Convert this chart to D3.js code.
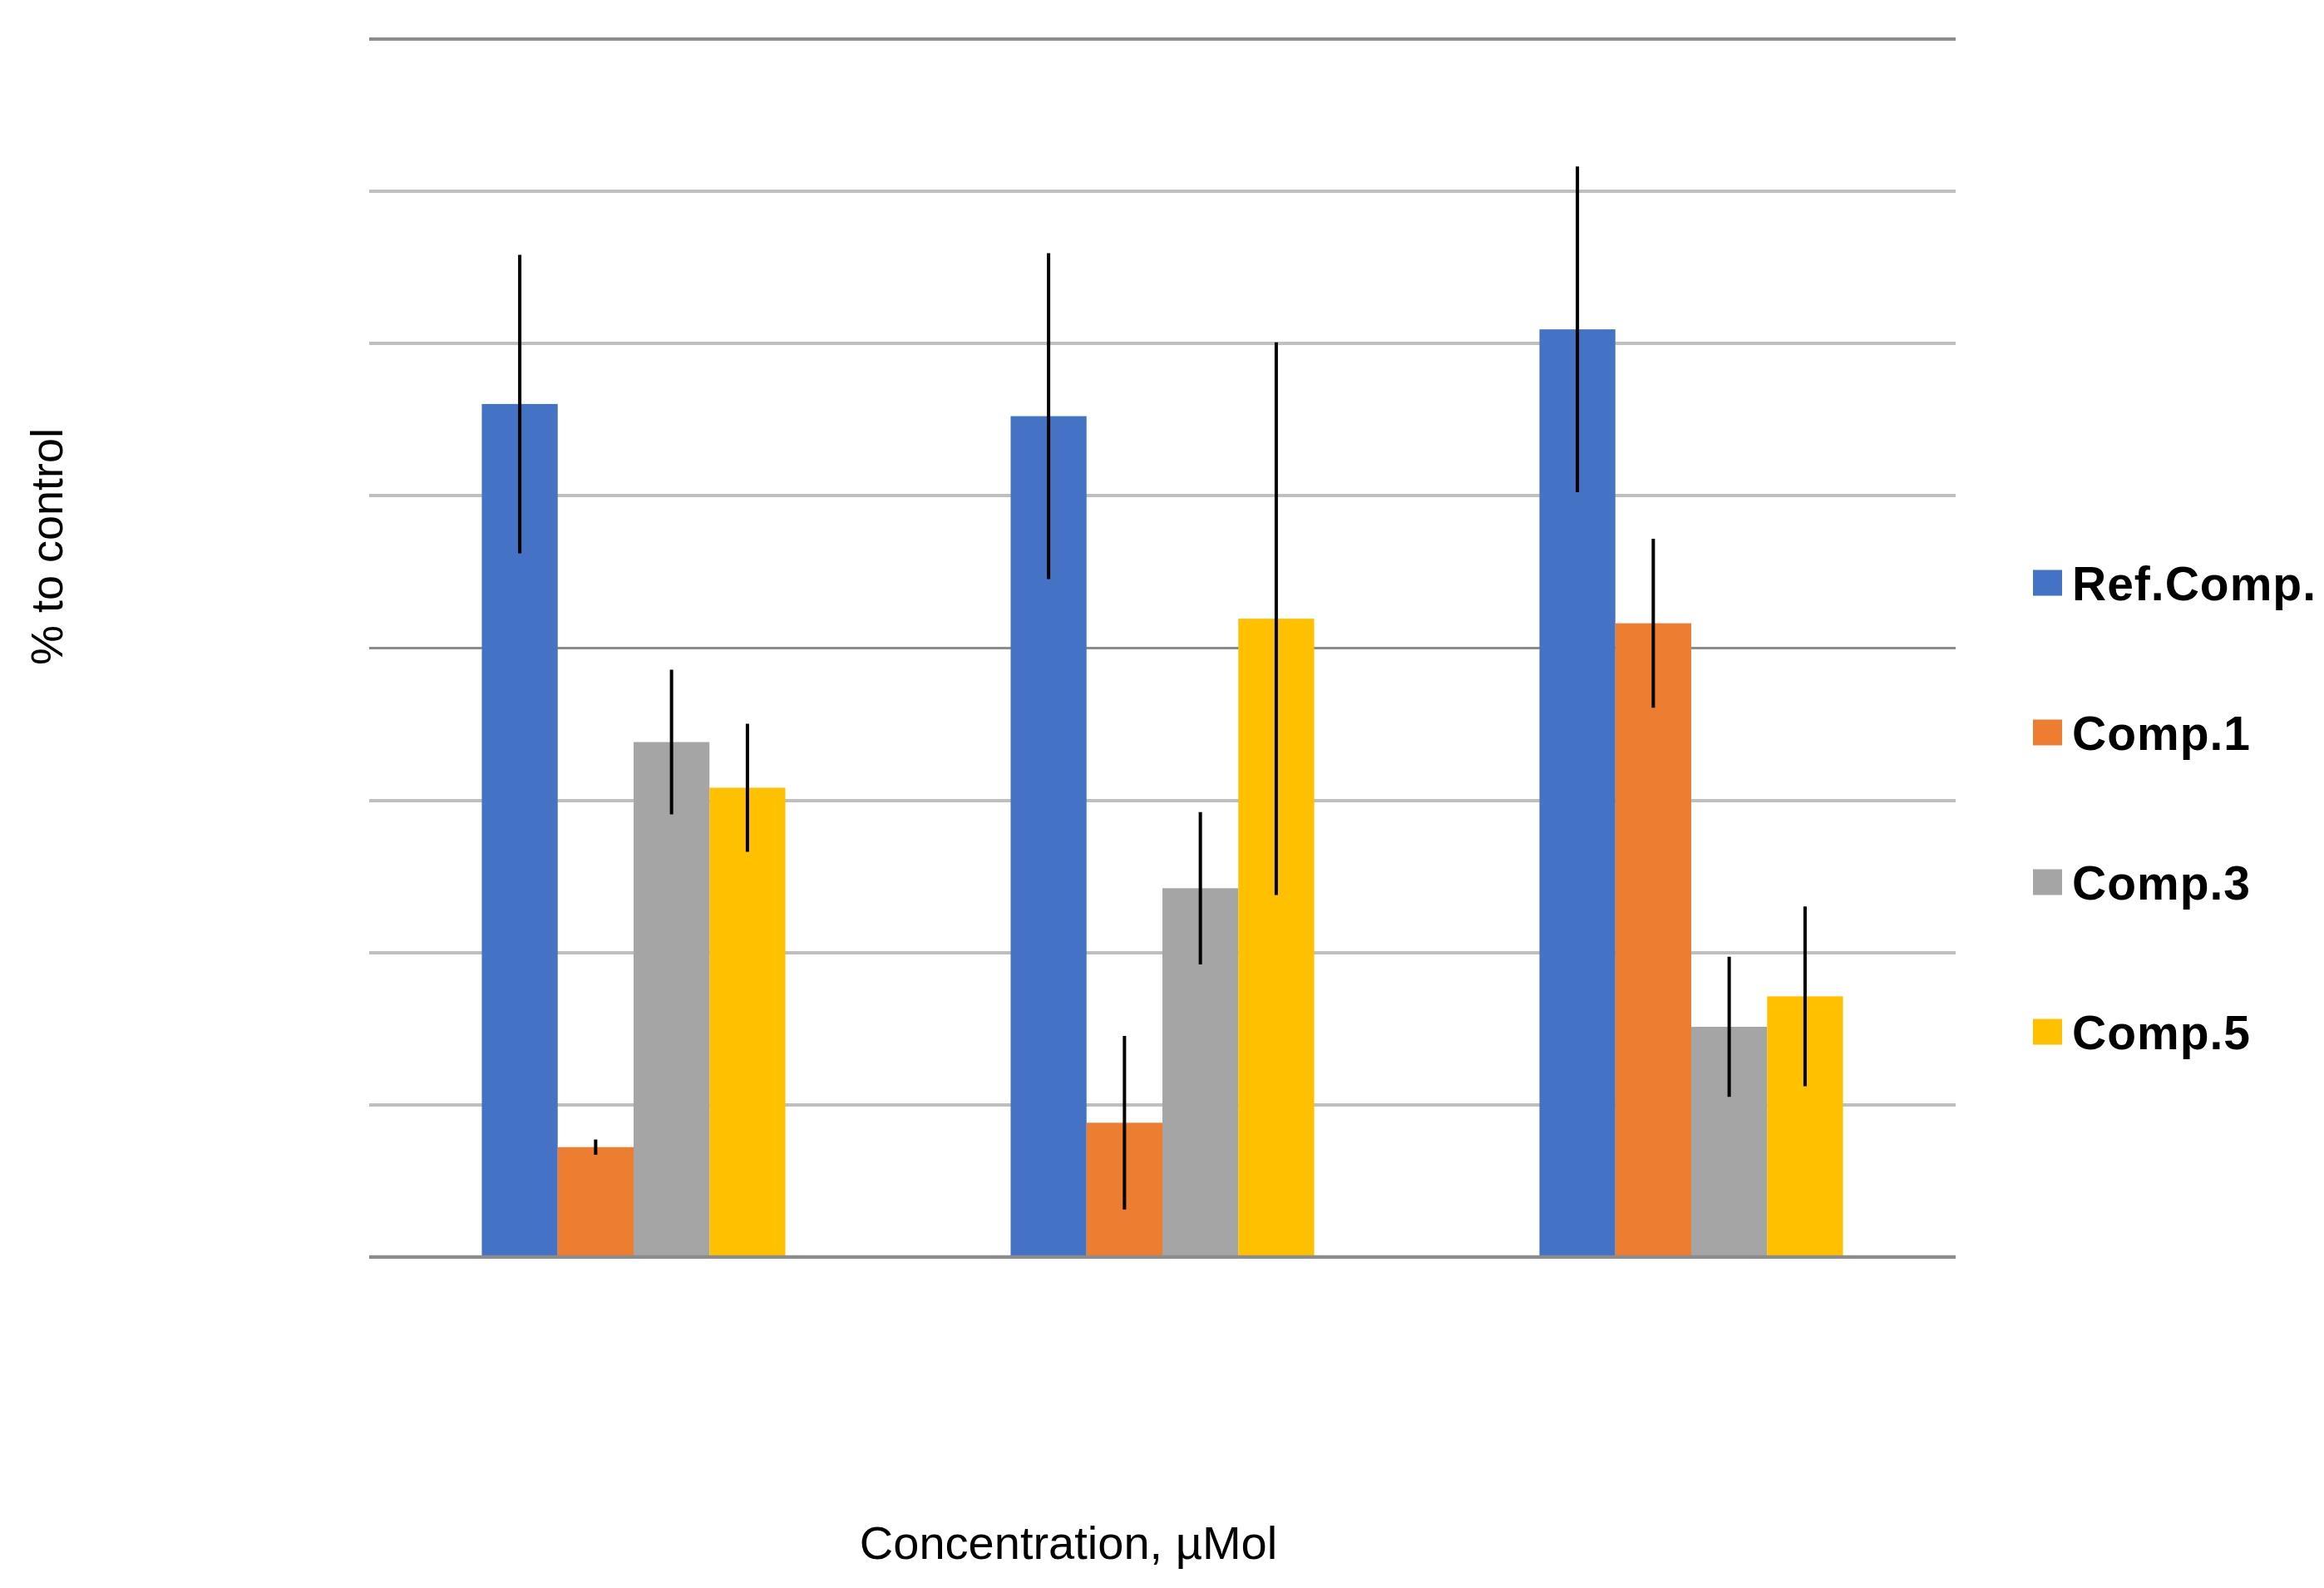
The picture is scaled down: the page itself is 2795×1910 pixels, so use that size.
<!DOCTYPE html>
<html>
<head>
<meta charset="utf-8">
<script src="https://cdn.jsdelivr.net/npm/d3@7"></script>
<style>
  html, body { margin: 0; padding: 0; background: #ffffff; }
  svg { display: block; }
</style>
</head>
<body>
<svg id="chart" width="2795" height="1910"></svg>
<script>
// ---- data (y axis has no printed labels) ----
const categories = ["Conc. 1", "Conc. 2", "Conc. 3"];
const seriesNames = ["Ref.Comp.", "Comp.1", "Comp.3", "Comp.5"];
const refComp   = [56.0, 55.2, 60.9];
const comp1     = [7.2, 8.8, 41.6];
const comp3     = [33.8, 24.2, 15.1];
const comp5     = [30.8, 41.9, 17.1];
const refCompErr = [9.8, 10.7, 10.7];
const comp1Err   = [0.5, 5.7, 5.55];
const comp3Err   = [4.75, 5.0, 4.6];
const comp5Err   = [4.2, 18.15, 5.9];
const yTicks = [0, 10, 20, 30, 40, 50, 60, 70, 80];
const yTitle = "% to control";
const xTitle = "Concentration, \u00b5Mol";

const seriesValues = [refComp, comp1, comp3, comp5];
const seriesErrors = [refCompErr, comp1Err, comp3Err, comp5Err];
const colors = ["#4472C4", "#ED7D31", "#A5A5A5", "#FFC000"];

// ---- layout ----
const plot = { left: 444, right: 2352, top: 46.3, bottom: 1511.6 };
const svg = d3.select("#chart");

const x0 = d3.scaleBand()
  .domain(categories)
  .range([plot.left, plot.right])
  .paddingInner(0.426)
  .paddingOuter(0.213);
const x1 = d3.scaleBand()
  .domain(seriesNames)
  .range([0, x0.bandwidth()])
  .padding(0);
const y = d3.scaleLinear()
  .domain([0, 80])
  .range([plot.bottom, plot.top]);
const color = d3.scaleOrdinal().domain(seriesNames).range(colors);

// gridlines via axis
const grid = svg.append("g")
  .attr("transform", `translate(${plot.left},0)`)
  .call(d3.axisLeft(y).tickValues(yTicks).tickSize(-(plot.right - plot.left)).tickFormat(""));
grid.select(".domain").remove();
grid.selectAll(".tick line")
  .attr("stroke", (d, i) => (i % 4 === 0 ? "#8c8c8c" : "#bfbfbf"))
  .attr("stroke-width", 3.8)
  .attr("shape-rendering", "crispEdges");

// table of bars
const rows = [];
categories.forEach((c, ci) => {
  seriesNames.forEach((s, si) => {
    rows.push({ cat: c, series: s, value: seriesValues[si][ci], err: seriesErrors[si][ci] });
  });
});

const barG = svg.append("g");
barG.selectAll("rect")
  .data(rows)
  .join("rect")
  .attr("x", d => x0(d.cat) + x1(d.series))
  .attr("y", d => y(d.value))
  .attr("width", x1.bandwidth())
  .attr("height", d => y(0) - y(d.value))
  .attr("fill", d => color(d.series));

// baseline on top of bars
svg.append("line")
  .attr("x1", plot.left).attr("x2", plot.right)
  .attr("y1", y(0)).attr("y2", y(0))
  .attr("stroke", "#8c8c8c").attr("stroke-width", 3.8);

// error bars
svg.append("g").selectAll("line")
  .data(rows)
  .join("line")
  .attr("x1", d => x0(d.cat) + x1(d.series) + x1.bandwidth() / 2)
  .attr("x2", d => x0(d.cat) + x1(d.series) + x1.bandwidth() / 2)
  .attr("y1", d => y(d.value + d.err))
  .attr("y2", d => y(Math.max(0, d.value - d.err)))
  .attr("stroke", "#000000")
  .attr("stroke-width", 4);

// axis titles
svg.append("text")
  .attr("transform", "translate(75,657.5) rotate(-90)")
  .attr("text-anchor", "middle")
  .attr("font-family", "'Liberation Sans', Arial, sans-serif")
  .attr("font-size", 54)
  .attr("fill", "#000")
  .text(yTitle);

svg.append("text")
  .attr("x", 1285)
  .attr("y", 1875)
  .attr("text-anchor", "middle")
  .attr("font-family", "'Liberation Sans', Arial, sans-serif")
  .attr("font-size", 56)
  .attr("fill", "#000")
  .text(xTitle);

// legend
const legend = svg.append("g");
const legendY = d3.scalePoint().domain(seriesNames).range([701, 1241]);
const items = legend.selectAll("g")
  .data(seriesNames)
  .join("g")
  .attr("transform", d => `translate(2445,${legendY(d)})`);
items.append("rect")
  .attr("x", 0).attr("y", -15.5)
  .attr("width", 35).attr("height", 31)
  .attr("fill", d => color(d));
items.append("text")
  .attr("x", 47).attr("y", 21)
  .attr("font-family", "'Liberation Sans', Arial, sans-serif")
  .attr("font-weight", "bold")
  .attr("font-size", 57)
  .attr("letter-spacing", 1)
  .attr("fill", "#000")
  .text(d => d);
</script>
</body>
</html>
